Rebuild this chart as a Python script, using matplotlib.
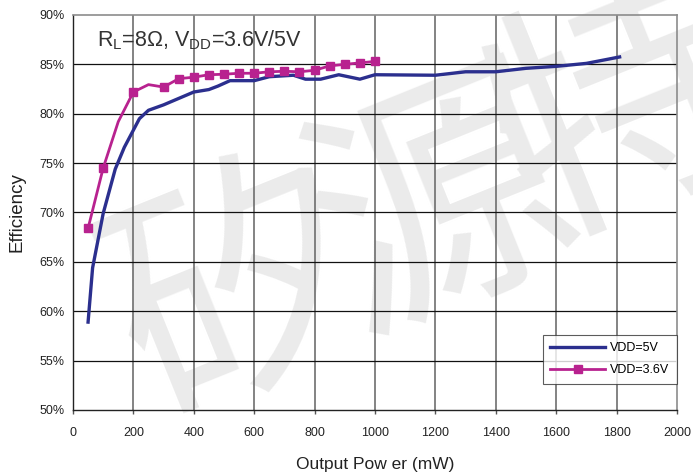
import matplotlib

matplotlib.use("Agg")
import matplotlib.pyplot as plt

plt.rcParams["font.family"] = ["Liberation Sans", "DejaVu Sans"]

# VDD = 5V curve
vdd5_power = [50, 65, 100, 140, 170, 220, 250, 300, 350, 400, 450, 480, 520,
              600, 650, 730, 770, 820, 880, 950, 1000, 1200, 1300, 1400, 1500,
              1600, 1700, 1810]
vdd5_eff = [58.9, 64.4, 69.9, 74.4, 76.6, 79.5, 80.35, 80.9, 81.55, 82.2, 82.45,
            82.8, 83.35, 83.35, 83.75, 83.9, 83.5, 83.5, 83.95, 83.5, 83.95, 83.9,
            84.25, 84.25, 84.6, 84.8, 85.1, 85.75]

# VDD = 3.6V curve; 150 and 250 are unmarked bends in the line
vdd36_power = [50, 100, 150, 200, 250, 300, 350, 400, 450, 500, 550, 600, 650,
               700, 750, 800, 850, 900, 950, 1000]
vdd36_eff = [68.4, 74.5, 79.2, 82.2, 82.95, 82.7, 83.55, 83.7, 83.95, 84.0, 84.1,
             84.1, 84.25, 84.3, 84.25, 84.4, 84.85, 85.0, 85.15, 85.3]
vdd36_marked = [0, 1, 3, 5, 6, 7, 8, 9, 10, 11, 12, 13, 14, 15, 16, 17, 18, 19]

x_ticks = list(range(0, 2001, 200))
y_ticks = list(range(50, 91, 5))

BLUE = "#2b2f8e"
MAGENTA = "#b8228f"
TEXT = "#222222"

fig = plt.figure(figsize=(6.93, 4.73), dpi=100)
ax = fig.add_axes([0.1053, 0.1332, 0.8716, 0.8351])

# faint watermark behind the chart
for ch, (wx, wy) in [("矽", (0.35, 0.37)), ("源", (0.64, 0.55)), ("特", (0.90, 0.75))]:
    fig.text(wx, wy, ch, fontsize=185, color="#ebebeb", ha="center", va="center",
             rotation=22, family=["Noto Sans CJK SC"], zorder=-5)

ax.set_facecolor("none")
ax.set_xlim(0, 2000)
ax.set_ylim(50, 90)
ax.set_xticks(x_ticks)
ax.set_yticks(y_ticks)
ax.set_yticklabels([f"{v}%" for v in y_ticks])
ax.tick_params(axis="y", length=0, labelsize=9, colors=TEXT, pad=6)
ax.tick_params(axis="x", length=3, width=1.0, color="#555555", labelsize=9,
               labelcolor=TEXT, pad=9)

for v in x_ticks[1:-1]:
    ax.axvline(v, color="#6e6e6e", lw=1.2, zorder=1)
for v in y_ticks[1:-1]:
    ax.axhline(v, color="#111111", lw=0.9, zorder=1)

for side in ("top", "right"):
    ax.spines[side].set_color("#8c8c8c")
    ax.spines[side].set_linewidth(1.2)
for side in ("left", "bottom"):
    ax.spines[side].set_color("#222222")
    ax.spines[side].set_linewidth(1.0)

ax.plot(vdd5_power, vdd5_eff, color=BLUE, lw=2.4, label="VDD=5V", zorder=3)
ax.plot(vdd36_power, vdd36_eff, color=MAGENTA, lw=2.0, marker="s", ms=6,
        markevery=vdd36_marked, label="VDD=3.6V", zorder=4)

ax.text(0.04, 0.935, r"R$_\mathregular{L}$=8Ω, V$_\mathregular{DD}$=3.6V/5V",
        transform=ax.transAxes, fontsize=15.5, color="#333333", va="center")

ax.set_xlabel("Output Pow er (mW)", fontsize=12.5, color=TEXT, labelpad=13)
ax.set_ylabel("Efficiency", fontsize=13.5, color=TEXT, labelpad=10)

fig.text(0.54, 1.008, "Efficiency vs Output Power", fontsize=13, ha="center",
         va="baseline", color=TEXT)

leg = ax.legend(loc="lower right", bbox_to_anchor=(1.0, 0.066), borderaxespad=0,
                fontsize=9, frameon=True, fancybox=False, edgecolor="#333333",
                handlelength=4.4, handletextpad=0.4, borderpad=0.6,
                labelspacing=0.8)
leg.get_frame().set_linewidth(0.8)

fig.savefig("out.png", dpi=100, facecolor="white")
